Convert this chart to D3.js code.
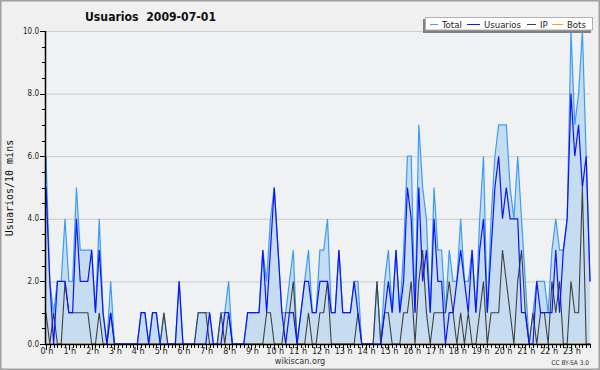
<!DOCTYPE html>
<html lang="es">
<head>
<meta charset="UTF-8">
<title>Usuarios 2009-07-01</title>
<script src="https://cdn.jsdelivr.net/npm/d3@7"></script>
<style>
    body { margin: 0; background: #f0f0f0; }
    svg { display: block; font-family: "DejaVu Sans Condensed", "DejaVu Sans", sans-serif; font-stretch: condensed; }
</style>
</head>
<body>
<svg id="chart" width="600" height="370"></svg>
<script>
    // one value per 10 minutes, 144 slots from 00:00
    var total = [6,2,1,2,2,4,2,2,5,3,3,3,3,1,4,1,0,2,0,0,0,0,0,0,
                 0,1,1,0,1,1,0,1,0,0,0,2,0,0,0,0,1,1,1,1,0,0,1,1,
                 2,0,0,0,0,1,1,1,1,3,2,4,5,3,1,1,2,3,0,1,2,3,1,1,
                 3,3,4,1,1,3,1,1,1,2,2,0,0,0,0,2,0,2,3,1,3,1,3,6,
                 6,1,7,5,4,1,5,3,3,1,3,2,2,4,2,2,3,1,4,6,1,4,6,7,
                 7,7,5,4,6,4,2,0,1,2,2,2,1,3,4,3,3,4,10,7,8,10,6,2];
    var usuarios = [5,2,0,2,2,2,1,1,4,2,2,2,3,1,3,1,0,1,0,0,0,0,0,0,
                    0,1,1,0,1,1,0,0,0,0,0,2,0,0,0,0,0,0,0,1,0,0,0,1,
                    1,0,0,0,0,1,1,1,1,3,1,3,5,3,1,0,1,1,0,1,2,2,1,1,
                    2,2,2,1,1,3,1,1,1,2,1,0,0,0,0,0,0,1,2,1,3,1,2,5,
                    4,1,5,2,3,1,4,2,2,0,1,1,2,3,2,1,3,1,3,4,1,3,5,6,
                    4,5,4,4,4,1,1,0,0,2,1,1,1,1,3,1,3,4,8,6,7,5,6,2];
    var ip = [1,0,1,0,0,2,1,1,1,1,1,1,0,0,1,0,0,1,0,0,0,0,0,0,
              0,0,0,0,0,0,0,1,0,0,0,0,0,0,0,0,1,1,1,0,0,0,1,0,
              1,0,0,0,0,0,0,0,0,0,1,1,0,0,0,1,1,2,0,0,0,1,0,0,
              1,1,2,0,0,0,0,0,0,0,1,0,0,0,0,2,0,1,1,0,0,0,1,1,
              2,0,2,3,1,0,1,1,1,1,2,1,0,1,0,1,0,0,1,2,0,1,1,1,
              3,2,1,0,2,3,1,0,1,0,1,1,0,2,1,2,0,0,2,1,1,5,0,0];
    var bots = total.map(function () { return 0; });

    var hourLabels = d3.range(24).map(function (h) { return h + " h"; });
    var yTicks = [0, 2, 4, 6, 8, 10];

    var svg = d3.select("#chart");
    var W = 600, H = 370;

    svg.append("rect").attr("x", 0.75).attr("y", 0.75)
        .attr("width", W - 1.5).attr("height", H - 1.5)
        .attr("fill", "#f0f0f0").attr("stroke", "#a0a0a0").attr("stroke-width", 1.5);

    var x = d3.scaleLinear().domain([0, 143]).range([46, 590]);
    var y = d3.scaleLinear().domain([0, 10]).range([344, 31]);

    svg.append("rect").attr("x", 46).attr("y", 31)
        .attr("width", 544).attr("height", 313).attr("fill", "#eff1f3");

    // grid
    svg.append("g").selectAll("line")
        .data(yTicks.slice(1))
        .enter().append("line")
        .attr("x1", 46).attr("x2", 590)
        .attr("y1", function (d) { return y(d) + 0.5; })
        .attr("y2", function (d) { return y(d) + 0.5; })
        .attr("stroke", "#cccccc").attr("stroke-width", 1);

    var idx = d3.range(total.length);

    var area = d3.area()
        .x(function (i) { return x(i); })
        .y0(y(0))
        .y1(function (i) { return y(total[i]); });

    svg.append("path").datum(idx)
        .attr("d", area)
        .attr("fill", "#c6ddf1");

    function line(arr) {
        return d3.line()
            .x(function (i) { return x(i); })
            .y(function (i) { return y(arr[i]); })(idx);
    }

    svg.append("path").attr("d", line(bots)).attr("fill", "none")
        .attr("stroke", "#ffa500").attr("stroke-width", 1);
    svg.append("path").attr("d", line(total)).attr("fill", "none")
        .attr("stroke", "#3d9cf5").attr("stroke-width", 1.2);
    svg.append("path").attr("d", line(ip)).attr("fill", "none")
        .attr("stroke", "#404040").attr("stroke-width", 1.1);
    svg.append("path").attr("d", line(usuarios)).attr("fill", "none")
        .attr("stroke", "#0a14ff").attr("stroke-width", 1.2);

    // y axis
    var yAxis = svg.append("g");
    yAxis.append("line").attr("x1", 45.5).attr("x2", 45.5)
        .attr("y1", 31).attr("y2", 344.5).attr("stroke", "#000").attr("stroke-width", 1.5);
    yAxis.selectAll(".minor")
        .data(d3.range(0, 10.01, 0.5))
        .enter().append("line")
        .attr("x1", function (d) { return d % 2 === 0 ? 40 : 42; })
        .attr("x2", 45)
        .attr("y1", function (d) { return Math.round(y(d)) + 0.5; })
        .attr("y2", function (d) { return Math.round(y(d)) + 0.5; })
        .attr("stroke", "#000").attr("stroke-width", 1);
    yAxis.selectAll("text")
        .data(yTicks)
        .enter().append("text")
        .attr("x", 39).attr("y", function (d) { return y(d) + 2.5; })
        .attr("text-anchor", "end")
        .attr("font-size", 8).attr("fill", "#222")
        .text(function (d) { return d.toFixed(1); });

    // x axis
    var xAxis = svg.append("g");
    xAxis.append("line").attr("x1", 45).attr("x2", 591)
        .attr("y1", 344.5).attr("y2", 344.5).attr("stroke", "#000").attr("stroke-width", 1.5);
    xAxis.selectAll(".tick")
        .data(d3.range(0, 144))
        .enter().append("line")
        .attr("x1", function (i) { return Math.round(x(i)) + 0.5; })
        .attr("x2", function (i) { return Math.round(x(i)) + 0.5; })
        .attr("y1", 344)
        .attr("y2", function (i) { return i % 6 === 0 ? 350 : 348; })
        .attr("stroke", "#000").attr("stroke-width", 1);
    xAxis.selectAll("text")
        .data(hourLabels)
        .enter().append("text")
        .attr("x", function (d, h) { return x(h * 6) + 1; })
        .attr("y", 354)
        .attr("text-anchor", "middle")
        .attr("font-size", 9).attr("fill", "#222")
        .text(function (d) { return d; });

    // title and labels
    svg.append("text").attr("x", 85).attr("y", 21)
        .attr("font-size", 13).attr("font-weight", "bold").attr("fill", "#111")
        .attr("xml:space", "preserve")
        .attr("textLength", 131).attr("lengthAdjust", "spacingAndGlyphs")
        .text("Usuarios  2009-07-01");

    svg.append("text")
        .attr("transform", "translate(13,188) rotate(-90)")
        .attr("text-anchor", "middle")
        .attr("font-family", "DejaVu Sans Mono, monospace")
        .attr("font-size", 10).attr("fill", "#111")
        .text("Usuarios/10 mins");

    svg.append("text").attr("x", 300).attr("y", 364)
        .attr("text-anchor", "middle").attr("font-size", 9).attr("fill", "#333")
        .text("wikiscan.org");

    svg.append("text").attr("x", 589).attr("y", 365)
        .attr("text-anchor", "end").attr("font-size", 6.5).attr("fill", "#333")
        .text("CC BY-SA 3.0");

    // legend
    var legendItems = [
        { name: "Total", color: "#3d9cf5" },
        { name: "Usuarios", color: "#0a14ff" },
        { name: "IP", color: "#404040" },
        { name: "Bots", color: "#ffa500" }
    ];
    var lg = svg.append("g");
    lg.append("rect").attr("x", 423).attr("y", 19).attr("width", 168).attr("height", 14)
        .attr("fill", "#808080");
    lg.append("rect").attr("x", 425.5).attr("y", 17.5).attr("width", 167).attr("height", 12.5)
        .attr("fill", "#fff").attr("stroke", "#b0b0b0").attr("stroke-width", 1);
    var lx = [430, 467, 527, 552];
    var lw = [8, 13, 9, 11];
    lg.selectAll(".ll")
        .data(legendItems)
        .enter().append("line")
        .attr("x1", function (d, i) { return lx[i]; })
        .attr("x2", function (d, i) { return lx[i] + lw[i]; })
        .attr("y1", 24.5).attr("y2", 24.5)
        .attr("stroke", function (d) { return d.color; }).attr("stroke-width", 1);
    lg.selectAll("text")
        .data(legendItems)
        .enter().append("text")
        .attr("x", function (d, i) { return lx[i] + lw[i] + 4; })
        .attr("y", 28)
        .attr("font-size", 9.5).attr("fill", "#222")
        .text(function (d) { return d.name; });
</script>
</body>
</html>
